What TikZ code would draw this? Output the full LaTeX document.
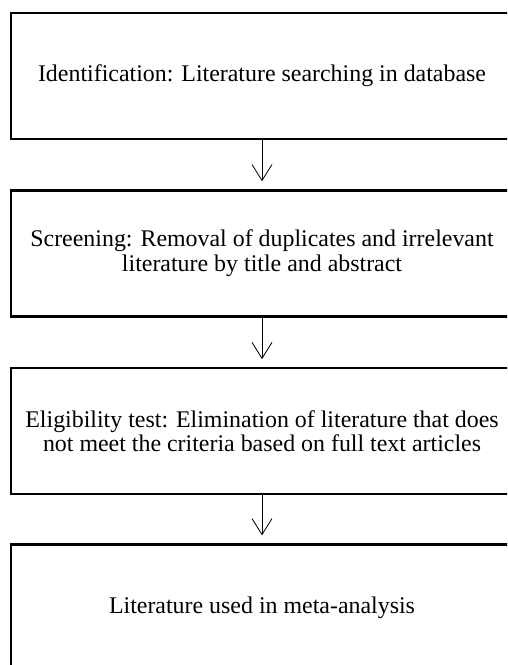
\documentclass[tikz,border=0pt]{standalone}
\usepackage{fontspec}
\setmainfont{Liberation Serif}
\usetikzlibrary{arrows.meta}
\begin{document}
\begin{tikzpicture}[x=1pt,y=-1pt,
  stagebox/.style={draw=black, line width=2.3pt, rectangle, minimum width=502pt, minimum height=126pt, inner sep=0pt, align=center, font={\fontsize{23.9}{24.5}\selectfont}},
  flowarrow/.style={line width=0.8pt, -{Straight Barb[length=16pt,width=20pt,line width=0.8pt]}, shorten >=8pt}]
\fill[white] (0,0) rectangle (507,665);
\useasboundingbox (0,0) rectangle (507,665);
\clip (0,0) rectangle (507,665);
\node[stagebox] (b1) at (262,75.8) {Identification: Literature searching in database};
\node[stagebox] (b2) at (262,253.4) {Screening: Removal of duplicates and irrelevant\\literature by title and abstract};
\node[stagebox] (b3) at (262,431.3) {Eligibility test: Elimination of literature that does\\not meet the criteria based on full text articles};
\node[stagebox] (b4) at (262,607.5) {Literature used in meta-analysis};
\draw[flowarrow] (b1.south) -- (b2.north);
\draw[flowarrow] (b2.south) -- (b3.north);
\draw[flowarrow] (b3.south) -- (b4.north);
\end{tikzpicture}
\end{document}
